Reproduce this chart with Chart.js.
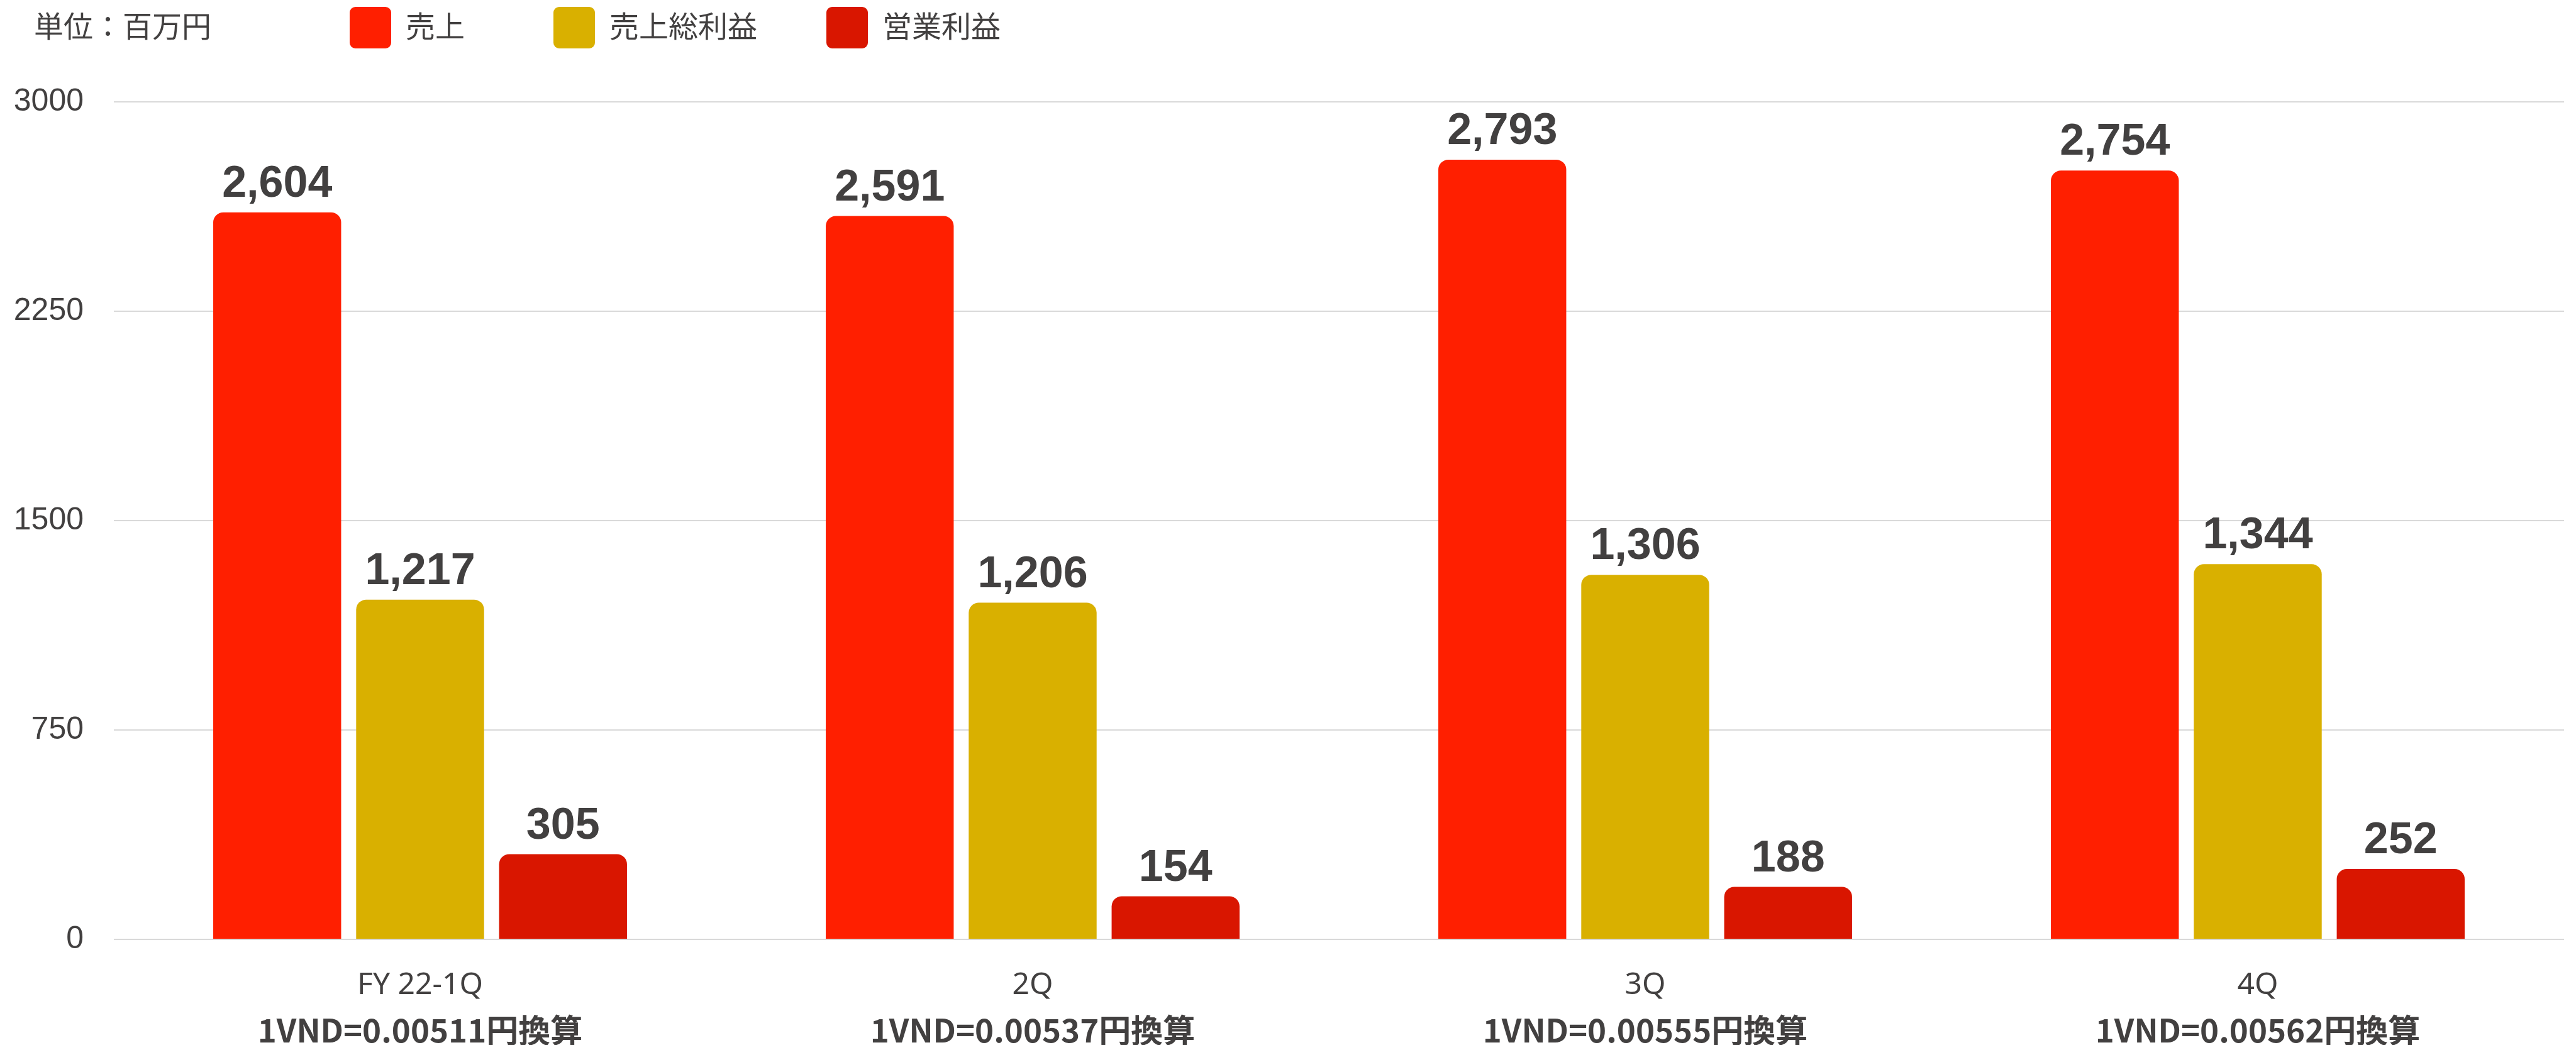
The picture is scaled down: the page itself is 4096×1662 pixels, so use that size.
<!DOCTYPE html>
<html>
<head>
<meta charset="utf-8">
<title>売上・利益推移</title>
<script src="https://cdn.jsdelivr.net/npm/chart.js@4.4.0/dist/chart.umd.min.js"></script>
<style>
  html, body { margin: 0; padding: 0; background: #fff; }
  #wrap { width: 4096px; height: 1662px; position: relative; }
</style>
</head>
<body>
<div id="wrap"><canvas id="myChart"></canvas></div>
<script>
// Quarterly results, million yen
const quarters = ['FY 22-1Q', '2Q', '3Q', '4Q'];
const rateNotes = ['1VND=0.00511円換算', '1VND=0.00537円換算', '1VND=0.00555円換算', '1VND=0.00562円換算'];
const sales = [2604, 2591, 2793, 2754];
const grossProfit = [1217, 1206, 1306, 1344];
const operatingProfit = [305, 154, 188, 252];
const seriesNames = ['売上', '売上総利益', '営業利益'];
const yTicks = [0, 750, 1500, 2250, 3000];
const unitLabel = '単位：百万円';

const colors = ['#ff1f00', '#d9b000', '#d91600'];
const textColor = '#424040';
const jpFont = "'Noto Sans CJK JP', 'Noto Sans', sans-serif";
const latinFont = "'Noto Sans', 'Noto Sans CJK JP', sans-serif";
const numFont = "'Liberation Sans', Arial, sans-serif";

// Value labels above each bar
const barValues = {
    id: 'barValues',
    afterDatasetsDraw(chart) {
        const c = chart.ctx;
        c.save();
        c.font = 'bold 70px ' + numFont;
        c.fillStyle = textColor;
        c.textAlign = 'center';
        c.textBaseline = 'alphabetic';
        chart.data.datasets.forEach((ds, i) => {
            chart.getDatasetMeta(i).data.forEach((bar, j) => {
                c.fillText(ds.data[j].toLocaleString('en-US'), bar.x, bar.y - 25);
            });
        });
        c.restore();
    }
};

// Unit note + legend along the top edge
const legendX = [556, 880, 1314];
const topLegend = {
    id: 'topLegend',
    afterDraw(chart) {
        const c = chart.ctx;
        c.save();
        c.font = '47px ' + jpFont;
        c.textBaseline = 'middle';
        c.fillStyle = textColor;
        c.fillText(unitLabel, 54, 41);
        chart.data.datasets.forEach((ds, i) => {
            c.fillStyle = ds.backgroundColor;
            c.beginPath();
            c.roundRect(legendX[i], 11, 66, 66, 9);
            c.fill();
            c.fillStyle = textColor;
            c.fillText(ds.label, legendX[i] + 89, 41);
        });
        c.restore();
    }
};

function makeDataset(i, values) {
    return {
        label: seriesNames[i],
        data: values,
        backgroundColor: colors[i],
        borderRadius: { topLeft: 16, topRight: 16, bottomLeft: 0, bottomRight: 0 },
        borderSkipped: 'start',
        categoryPercentage: 0.70,
        barPercentage: 0.895
    };
}

var ctx = document.getElementById('myChart').getContext('2d');
var myChart = new Chart(ctx, {
    type: 'bar',
    data: {
        labels: quarters,
        datasets: [
            makeDataset(0, sales),
            makeDataset(1, grossProfit),
            makeDataset(2, operatingProfit)
        ]
    },
    plugins: [barValues, topLegend],
    options: {
        responsive: true,
        maintainAspectRatio: false,
        animation: false,
        devicePixelRatio: 1,
        layout: {
            padding: { top: 162, left: 22, right: 19, bottom: 0 }
        },
        plugins: {
            legend: { display: false },
            tooltip: { enabled: false }
        },
        scales: {
            x: {
                weight: 0,
                grid: { display: false },
                border: { display: false },
                // keep the rate note line close under the quarter name
                afterFit: axis => { axis.height = 97; },
                ticks: {
                    color: textColor,
                    padding: 37,
                    font: { family: latinFont, size: 48 }
                }
            },
            x2: {
                type: 'category',
                labels: rateNotes,
                position: 'bottom',
                offset: true,
                weight: 1,
                grid: { display: false },
                border: { display: false },
                afterFit: axis => { axis.height = 71; },
                ticks: {
                    color: textColor,
                    padding: 9,
                    font: { family: jpFont, size: 51, weight: 'bold' }
                }
            },
            y: {
                min: 0,
                max: 3000,
                afterBuildTicks: axis => {
                    axis.ticks = yTicks.map(v => ({ value: v }));
                },
                afterFit: axis => { axis.width = 159; },
                grid: { color: '#d9d9d9', lineWidth: 2, drawTicks: false },
                border: { display: false },
                ticks: {
                    color: textColor,
                    padding: 48,
                    font: { family: numFont, size: 50 },
                    callback: v => String(v)
                }
            }
        }
    }
});
</script>
</body>
</html>
